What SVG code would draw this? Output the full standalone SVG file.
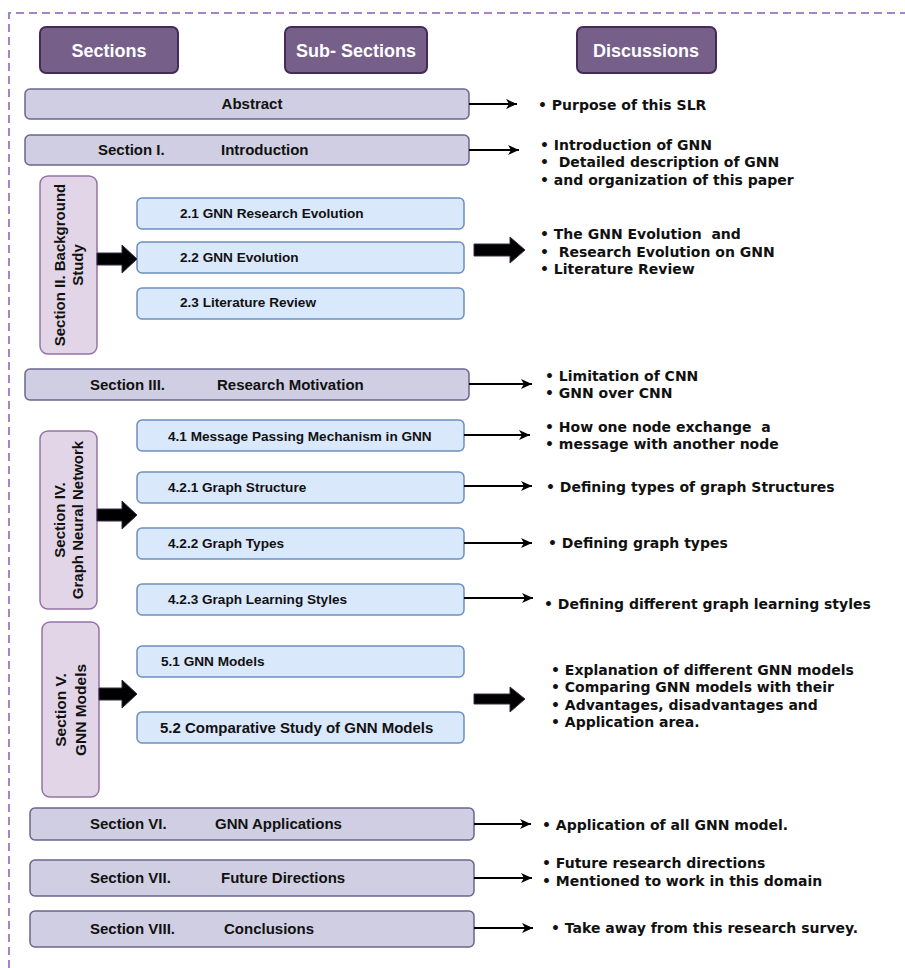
<svg xmlns="http://www.w3.org/2000/svg" width="905" height="968" viewBox="0 0 905 968">
<style>
.hdr{fill:#76608a;stroke:#432d57;stroke-width:2}
.hdrt{font-family:"Liberation Sans",Arial,sans-serif;font-weight:bold;font-size:18px;fill:#fff;text-anchor:middle}
.sec{fill:#d0cee2;stroke:#6c6490;stroke-width:1.5}
.sect{font-family:"Liberation Sans",Arial,sans-serif;font-weight:bold;font-size:15px;fill:#111}
.vbox{fill:#e1d5e7;stroke:#9673a6;stroke-width:1.5}
.vt{font-family:"Liberation Sans",Arial,sans-serif;font-weight:bold;font-size:15px;fill:#111;text-anchor:middle}
.sub{fill:#dae8fc;stroke:#6c8ebf;stroke-width:1.5}
.subt{font-family:"Liberation Sans",Arial,sans-serif;font-weight:bold;font-size:13.6px;fill:#111}
.disc{font-family:"DejaVu Sans",Verdana,sans-serif;font-weight:bold;font-size:14px;fill:#111}
.ln{stroke:#000;stroke-width:2;fill:none;marker-end:url(#ah)}
.blk{fill:#000;stroke:#3a2a45;stroke-width:1}
</style>
<defs>
<marker id="ah" markerUnits="userSpaceOnUse" markerWidth="12" markerHeight="10" refX="11" refY="5" orient="auto">
<path d="M0,0 L11,5 L0,10 L3,5 Z" fill="#000"/>
</marker>
</defs>
<g id="border" fill="none" stroke="#a884c4" stroke-width="2" stroke-dasharray="8 5">
<path d="M9,968 L9,13 L905,13"/>
</g>
<g id="headers">
<g id="h-sections"><rect class="hdr" x="40" y="27" width="138" height="46" rx="6"/><text class="hdrt" x="109" y="57">Sections</text></g>
<g id="h-sub"><rect class="hdr" x="285" y="27" width="142" height="46" rx="6"/><text class="hdrt" x="356" y="57">Sub- Sections</text></g>
<g id="h-disc"><rect class="hdr" x="577" y="27" width="139" height="46" rx="6"/><text class="hdrt" x="646" y="57">Discussions</text></g>
</g>
<g id="abstract"><rect class="sec" x="25" y="89" width="444" height="30" rx="5"/><text class="sect" x="252" y="109" text-anchor="middle">Abstract</text></g>
<g id="sec1"><rect class="sec" x="25" y="135" width="444" height="30" rx="5"/><text class="sect" x="98" y="155">Section I.</text><text class="sect" x="221" y="155">Introduction</text></g>
<g id="sec2"><rect class="vbox" x="40" y="176" width="57" height="178" rx="8"/>
<text class="vt" transform="translate(68,265) rotate(-90)"><tspan x="0" y="-3">Section II. Background</tspan><tspan x="0" y="15">Study</tspan></text></g>
<g id="s21"><rect class="sub" x="137" y="198" width="327" height="31" rx="5"/><text class="subt" x="180" y="218">2.1 GNN Research Evolution</text></g>
<g id="s22"><rect class="sub" x="137" y="242" width="327" height="31" rx="5"/><text class="subt" x="180" y="262">2.2 GNN Evolution</text></g>
<g id="s23"><rect class="sub" x="137" y="288" width="327" height="31" rx="5"/><text class="subt" x="180" y="307">2.3 Literature Review</text></g>
<g id="sec3"><rect class="sec" x="25" y="369" width="444" height="31" rx="5"/><text class="sect" x="90" y="390">Section III.</text><text class="sect" x="217" y="390">Research Motivation</text></g>
<g id="sec4"><rect class="vbox" x="40" y="431" width="57" height="178" rx="8"/>
<text class="vt" transform="translate(68,520) rotate(-90)"><tspan x="0" y="-3">Section IV.</tspan><tspan x="0" y="15">Graph Neural Network</tspan></text></g>
<g id="s41"><rect class="sub" x="137" y="420" width="327" height="31" rx="5"/><text class="subt" x="168" y="441">4.1 Message Passing Mechanism in GNN</text></g>
<g id="s421"><rect class="sub" x="137" y="472" width="327" height="31" rx="5"/><text class="subt" x="168" y="492">4.2.1 Graph Structure</text></g>
<g id="s422"><rect class="sub" x="137" y="528" width="327" height="31" rx="5"/><text class="subt" x="168" y="548">4.2.2 Graph Types</text></g>
<g id="s423"><rect class="sub" x="137" y="584" width="327" height="31" rx="5"/><text class="subt" x="168" y="604">4.2.3 Graph Learning Styles</text></g>
<g id="sec5"><rect class="vbox" x="42" y="622" width="57" height="175" rx="8"/>
<text class="vt" style="font-size:15.5px" transform="translate(70,710) rotate(-90)"><tspan x="0" y="-4">Section V.</tspan><tspan x="0" y="16">GNN Models</tspan></text></g>
<g id="s51"><rect class="sub" x="137" y="646" width="327" height="31" rx="5"/><text class="subt" x="161" y="666">5.1 GNN Models</text></g>
<g id="s52"><rect class="sub" x="137" y="712" width="327" height="31" rx="5"/><text class="subt" style="font-size:15px" x="160" y="733">5.2 Comparative Study of GNN Models</text></g>
<g id="sec6"><rect class="sec" x="30" y="808" width="444" height="32" rx="5"/><text class="sect" x="90" y="829">Section VI.</text><text class="sect" x="215" y="829">GNN Applications</text></g>
<g id="sec7"><rect class="sec" x="30" y="860" width="444" height="36" rx="5"/><text class="sect" x="90" y="883">Section VII.</text><text class="sect" x="221" y="883">Future Directions</text></g>
<g id="sec8"><rect class="sec" x="30" y="911" width="444" height="36" rx="5"/><text class="sect" x="90" y="934">Section VIII.</text><text class="sect" x="224" y="934">Conclusions</text></g>
<g id="connectors">
<line class="ln" x1="469" y1="104" x2="517" y2="104"/>
<line class="ln" x1="469" y1="150" x2="519" y2="150"/>
<line class="ln" x1="469" y1="384" x2="532" y2="384"/>
<line class="ln" x1="464" y1="435" x2="530" y2="435"/>
<line class="ln" x1="464" y1="486" x2="532" y2="486"/>
<line class="ln" x1="464" y1="543" x2="532" y2="543"/>
<line class="ln" x1="464" y1="598" x2="533" y2="598"/>
<line class="ln" x1="474" y1="824" x2="531" y2="824"/>
<line class="ln" x1="474" y1="878" x2="532" y2="878"/>
<line class="ln" x1="474" y1="928" x2="533" y2="928"/>
<path class="blk" d="M97,253 L122,253 L122,245 L137,259 L122,273 L122,265 L97,265 Z"/>
<path class="blk" d="M97,509 L122,509 L122,501 L137,515 L122,529 L122,521 L97,521 Z"/>
<path class="blk" d="M99,688 L122,688 L122,680 L137,694 L122,708 L122,700 L99,700 Z"/>
<path class="blk" d="M474,244 L510,244 L510,237 L525,250 L510,263 L510,256 L474,256 Z"/>
<path class="blk" d="M474,694 L510,694 L510,687 L525,699 L510,712 L510,704 L474,704 Z"/>
</g>
<g id="discussions" class="disc">
<text x="538" y="110">• Purpose of this SLR</text>
<text x="540" y="150">• Introduction of GNN</text>
<text x="540" y="167">•&#160; Detailed description of GNN</text>
<text x="540" y="185">• and organization of this paper</text>
<text x="540" y="239">• The GNN Evolution&#160; and</text>
<text x="540" y="257">•&#160; Research Evolution on GNN</text>
<text x="540" y="274">• Literature Review</text>
<text x="545" y="381">• Limitation of CNN</text>
<text x="545" y="398">• GNN over CNN</text>
<text x="545" y="432">• How one node exchange&#160; a</text>
<text x="545" y="449">• message with another node</text>
<text x="546" y="492">• Defining types of graph Structures</text>
<text x="548" y="548">• Defining graph types</text>
<text x="544" y="609">• Defining different graph learning styles</text>
<text x="551" y="675">• Explanation of different GNN models</text>
<text x="551" y="692">• Comparing GNN models with their</text>
<text x="551" y="710">• Advantages, disadvantages and</text>
<text x="551" y="727">• Application area.</text>
<text x="542" y="830">• Application of all GNN model.</text>
<text x="542" y="868">• Future research directions</text>
<text x="542" y="886">• Mentioned to work in this domain</text>
<text x="551" y="933">• Take away from this research survey.</text>
</g>
</svg>
